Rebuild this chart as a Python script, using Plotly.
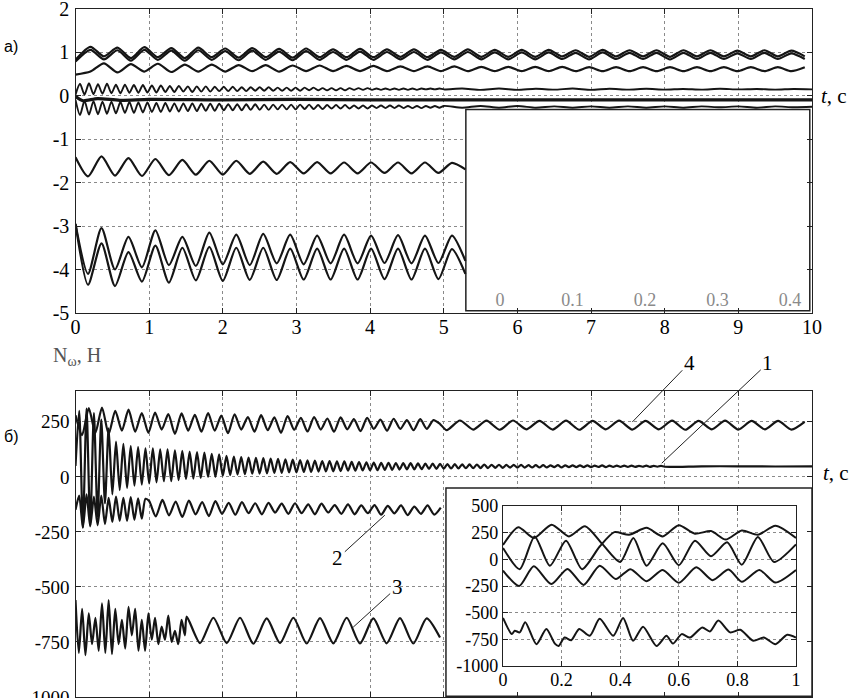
import numpy as np
import plotly.graph_objects as go

W, H = 853, 698

# ---------------- panel a) : values at the swing extrema ----------------
# curves 1..3 of panel a share a swing of ~0.366 s, sampled at its half period
A_T0 = 0.203
A_DT = 0.183
a1_v = [0.82,
        1.12, 0.90, 1.10, 0.86, 1.11, 0.88, 1.09, 0.86, 1.10, 0.88,
        1.08, 0.87, 1.09, 0.88, 1.07, 0.87, 1.08, 0.88, 1.06, 0.88,
        1.07, 0.88, 1.06, 0.89, 1.06, 0.88, 1.05, 0.89, 1.06, 0.89,
        1.05, 0.89, 1.05, 0.89, 1.05, 0.90, 1.04, 0.89, 1.05, 0.90,
        1.04, 0.90, 1.04, 0.89, 1.04, 0.90, 1.04, 0.90, 1.03, 0.90,
        1.04, 0.90, 1.03, 0.90]
a2_v = [0.78,
        1.05, 0.83, 1.04, 0.80, 1.05, 0.82, 1.03, 0.80, 1.04, 0.82,
        1.02, 0.81, 1.03, 0.82, 1.01, 0.81, 1.02, 0.82, 1.00, 0.82,
        1.01, 0.82, 1.00, 0.83, 1.00, 0.82, 0.99, 0.83, 1.00, 0.83,
        0.99, 0.83, 0.99, 0.83, 0.99, 0.84, 0.98, 0.83, 0.99, 0.84,
        0.98, 0.84, 0.98, 0.83, 0.98, 0.84, 0.98, 0.84, 0.97, 0.84,
        0.98, 0.84, 0.97, 0.84]
a3_v = [0.48,
        0.55, 0.74, 0.53, 0.72, 0.55, 0.73, 0.54, 0.71, 0.55, 0.71,
        0.55, 0.70, 0.56, 0.70, 0.55, 0.69, 0.56, 0.69, 0.56, 0.68,
        0.56, 0.68, 0.56, 0.67, 0.56, 0.67, 0.56, 0.67, 0.56, 0.66,
        0.56, 0.66, 0.56, 0.66, 0.56, 0.66, 0.56, 0.65, 0.56, 0.65,
        0.56, 0.65, 0.56, 0.65, 0.56, 0.65, 0.56, 0.65, 0.56, 0.65,
        0.56, 0.65, 0.56, 0.65]

# fast ripple curves (~0.12 s) : dense part up to 5 s, coarse part after
HF_DT = 0.061
LF_T0 = 5.25
LF_DT = 0.25
a4_hf = [0.02,
         0.27, 0.02, 0.28, 0.03, 0.26, 0.04, 0.27, 0.05, 0.25, 0.05,
         0.25, 0.06, 0.24, 0.06, 0.24, 0.07, 0.23, 0.07, 0.23, 0.08,
         0.22, 0.08, 0.22, 0.09, 0.21, 0.08, 0.21, 0.09, 0.21, 0.09,
         0.20, 0.10, 0.20, 0.10, 0.20, 0.10, 0.19, 0.10, 0.19, 0.11,
         0.19, 0.11, 0.19, 0.11, 0.18, 0.11, 0.18, 0.11, 0.18,
         0.11, 0.18, 0.12, 0.18, 0.12, 0.17, 0.12, 0.17, 0.12, 0.17,
         0.12, 0.17, 0.13, 0.17, 0.13, 0.17, 0.13, 0.16, 0.13, 0.16,
         0.13, 0.16, 0.13, 0.16, 0.13, 0.16, 0.13, 0.16, 0.14, 0.16,
         0.14, 0.16, 0.14]
a4_lf = [0.16, 0.13, 0.16, 0.13, 0.155, 0.135, 0.16, 0.13, 0.155, 0.135,
         0.155, 0.135, 0.15, 0.135, 0.155, 0.14, 0.15, 0.135, 0.15, 0.14]
a6_hf = [-0.10,
         -0.45, -0.12, -0.44, -0.13, -0.43, -0.14, -0.42, -0.14, -0.41, -0.15,
         -0.40, -0.15, -0.40, -0.16, -0.39, -0.16, -0.38, -0.17, -0.38, -0.17,
         -0.37, -0.18, -0.37, -0.18, -0.36, -0.18, -0.36, -0.19, -0.35, -0.19,
         -0.35, -0.19, -0.34, -0.20, -0.34, -0.20, -0.34, -0.20, -0.33, -0.20,
         -0.33, -0.21, -0.33, -0.21, -0.32, -0.21, -0.32, -0.21, -0.32,
         -0.21, -0.31, -0.21, -0.31, -0.22, -0.31, -0.22, -0.30, -0.22, -0.30,
         -0.22, -0.30, -0.23, -0.30, -0.23, -0.30, -0.23, -0.29, -0.23, -0.29,
         -0.23, -0.29, -0.23, -0.29, -0.24, -0.29, -0.24, -0.29, -0.24, -0.28,
         -0.24, -0.28, -0.24]
a6_lf = [-0.28, -0.24, -0.28, -0.24, -0.28, -0.25, -0.28, -0.25, -0.28, -0.25,
         -0.28, -0.25, -0.28, -0.25, -0.27, -0.25, -0.28, -0.25, -0.27, -0.26]

a5_t = [0, 0.1, 0.3, 0.6, 1, 2, 3, 4, 5, 6, 7, 8, 9, 10]
a5_v = [-0.02, -0.12, -0.07, -0.11, -0.09, -0.10, -0.09, -0.10, -0.10, -0.10, -0.10, -0.10, -0.10, -0.10]

# lower curves of panel a stop at the inset (t ~ 5.3)
LOW_T0 = 0.17
a7_v = [-1.42,
        -1.86, -1.40, -1.84, -1.44, -1.85, -1.46, -1.83, -1.48, -1.82, -1.50,
        -1.82, -1.50, -1.80, -1.52, -1.80, -1.53, -1.79, -1.53, -1.79, -1.54,
        -1.79, -1.54, -1.78, -1.54, -1.79, -1.54, -1.78, -1.55, -1.70]
a8_v = [-2.95,
        -4.10, -3.05, -4.00, -3.25, -3.95, -3.10, -3.90, -3.25, -3.92, -3.15,
        -3.88, -3.20, -3.90, -3.18, -3.86, -3.20, -3.88, -3.22, -3.86, -3.20,
        -3.86, -3.22, -3.85, -3.21, -3.86, -3.22, -3.85, -3.22, -3.80]
a9_v = [-2.95,
        -4.35, -3.40, -4.38, -3.60, -4.28, -3.45, -4.30, -3.50, -4.25, -3.48,
        -4.26, -3.50, -4.24, -3.50, -4.24, -3.52, -4.23, -3.52, -4.23, -3.52,
        -4.23, -3.52, -4.22, -3.52, -4.23, -3.52, -4.22, -3.53, -4.10]

# ---------------- panel б) ----------------
b1_dt = 0.05
b1_v = [50,
        300, -230, 310, -220, 290, -180, 260, -120, 220, -80,
        160, -60, 150, -50, 140, -40, 135, -35, 130, -30,
        130, -25, 125, -20, 125, -20, 120, -15, 118, -10,
        115, -8, 112, -5, 110, 0, 105, 0, 102, 5,
        95, 8, 92, 10, 90, 12, 88, 14, 86, 15,
        85, 16, 83, 18, 82, 18, 80, 20, 78, 20,
        76, 22, 75, 22, 74, 24, 72, 25, 72, 25,
        70, 26, 70, 28, 68, 28, 67, 29, 66, 30,
        65, 30, 64, 32, 64, 32, 63, 33, 62, 34,
        62, 34, 61, 35, 60, 36, 60, 36, 59, 37,
        58, 38, 58, 38, 57, 39, 57, 39, 56, 40,
        56, 40, 55, 41, 55, 41, 54, 42, 54, 42,
        54, 42, 53, 43, 53, 43, 53, 43, 52, 44,
        53, 43, 52, 44, 52, 44, 52, 44, 52, 44,
        51, 45, 52, 44, 51, 45, 51, 45, 51, 45,
        51, 45, 50, 46, 51, 45, 50, 46, 50, 46]
b1_tail_t = [8.5, 9.0, 9.5, 10.0]
b1_tail_v = [48, 48, 47, 48]

b2_v_early = [-150, -85, -230, -80, -225, -90, -220, -85, -215, -95,
              -205, -90, -200, -95, -200, -92, -195, -98, -190, -100]
b2_v_late = [-110, -180, -105, -175, -112, -182, -108, -170, -115, -178,
             -110, -168, -118, -172, -115, -165, -120, -170, -118, -162,
             -122, -168, -120, -165, -125, -170, -122, -162, -128, -168,
             -125, -170, -130, -165, -128, -172, -132, -166, -130, -174,
             -135, -168, -130, -172, -140]

b3_v_early = [-560, -800, -600, -810, -620, -760, -640, -790, -575, -800,
              -560, -805, -600, -760, -650, -780, -590, -720, -600, -790,
              -650, -790, -620, -740, -640, -760, -680, -740, -630, -750,
              -700, -760, -650, -720]
b3_v_late = [-635, -755, -640, -755, -640, -758, -643, -755, -640, -757,
             -642, -756, -640, -757, -643, -756, -642, -757, -643, -730]

b4_v_early = [280,
              190, 312, 200, 315, 195, 300, 210, 305, 205, 290,
              200, 292, 215, 285, 195, 288, 210, 282, 205, 290,
              210, 278, 198, 284, 215, 272, 205, 280, 212, 270,
              200, 276, 214, 268, 206, 272, 215, 265, 205, 270,
              216, 262, 208, 268, 218, 260, 210, 264, 218, 258,
              212, 262, 218, 258, 240]
b4_v_late = [212, 256, 215, 255, 214, 256, 216, 254, 215, 255,
             214, 254, 216, 255, 215, 254, 216, 255, 214, 254,
             216, 255, 215, 254, 216, 254, 215, 250]

# inset of panel б) (first second)
ib1_t = [0, 0.052, 0.105, 0.166, 0.225, 0.28, 0.34, 0.40, 0.445, 0.49, 0.545, 0.60, 0.655, 0.71, 0.765, 0.815, 0.87, 0.925, 1.0]
ib1_v = [134, 300, 200, 325, 215, 310, 140, -25, 200, -60, 150, -55, 175, 30, 160, -50, 210, -25, 140]
ib4_t = [0, 0.057, 0.108, 0.16, 0.215, 0.27, 0.33, 0.38, 0.43, 0.49, 0.545, 0.60, 0.655, 0.71, 0.76, 0.815, 0.87, 0.93, 1.0]
ib4_v = [107, -92, 215, -60, 175, -92, 120, 255, 230, 295, 215, 320, 240, 265, 185, 270, 230, 315, 200]
ib2_t = [0, 0.055, 0.105, 0.165, 0.22, 0.275, 0.33, 0.385, 0.435, 0.49, 0.545, 0.60, 0.66, 0.715, 0.77, 0.815, 0.875, 0.93, 1.0]
ib2_v = [-105, -250, -65, -232, -90, -240, -60, -185, -92, -205, -100, -220, -75, -195, -95, -210, -100, -218, -100]
ib3_t = [0, 0.03, 0.04, 0.057, 0.076, 0.114, 0.148, 0.177, 0.19, 0.21, 0.233, 0.26, 0.296, 0.33, 0.376, 0.41,
         0.444, 0.478, 0.524, 0.558, 0.58, 0.61, 0.638, 0.68, 0.706, 0.735, 0.775, 0.81, 0.854, 0.89, 0.93, 0.97, 1.0]
ib3_v = [-549, -701, -669, -685, -590, -796, -653, -790, -812, -733, -758, -653, -717, -558, -717, -549,
         -764, -631, -812, -717, -790, -701, -733, -638, -676, -574, -685, -660, -764, -733, -796, -707, -733]

# ticks
t_ticks = list(range(0, 11))
a_yticks = [2, 1, 0, -1, -2, -3, -4, -5]
a_ylabels = ['2', '1', '0', '-1', '-2', '-3', '-4', '-5']
b_yticks = [250, 0, -250, -500, -750, -1000]
b_ylabels = ['250', '0', '-250', '-500', '-750', '-1000']
ia_xticks = [0, 0.1, 0.2, 0.3, 0.4]
ia_xlabels = ['0', '0.1', '0.2', '0.3', '0.4']
ib_xticks = [0, 0.2, 0.4, 0.6, 0.8, 1]
ib_xlabels = ['0', '0.2', '0.4', '0.6', '0.8', '1']
ib_yticks = [500, 250, 0, -250, -500, -750, -1000]
ib_ylabels = ['500', '250', '0', '-250', '-500', '-750', '-1000']

# curve labels of panel б): (number, t, value)
b_marks = [('4', 7.56, 249), ('1', 7.96, 62), ('2', 4.2, -174), ('3', 3.77, -683)]


def px_x(px):
    return px / W


def px_y(py):
    return 1 - py / H


def swing_t(t0, dt, n):
    # first value is the start at t = 0, the rest sit on the extrema
    return np.concatenate([[0.0], t0 + dt * np.arange(n - 1)])


def add_line(fig, t, v, xa, ya, width=2.2):
    fig.add_trace(go.Scatter(x=t, y=v, mode='lines', xaxis=xa, yaxis=ya,
                             line=dict(color='#151515', width=width, shape='spline', smoothing=0.7),
                             hoverinfo='skip', showlegend=False))


fig = go.Figure()

# panel a
for vals in (a1_v, a2_v, a3_v):
    add_line(fig, swing_t(A_T0, A_DT, len(vals)), vals, 'x', 'y')
for hf, lf in ((a4_hf, a4_lf), (a6_hf, a6_lf)):
    t = np.concatenate([HF_DT * np.arange(len(hf)), LF_T0 + LF_DT * np.arange(len(lf))])
    add_line(fig, t, hf + lf, 'x', 'y', 1.9)
add_line(fig, a5_t, a5_v, 'x', 'y', 3.2)
for vals in (a7_v, a8_v, a9_v):
    add_line(fig, swing_t(LOW_T0, A_DT, len(vals)), vals, 'x', 'y')

# panel б
add_line(fig, np.concatenate([b1_dt * np.arange(len(b1_v)), b1_tail_t]), b1_v + b1_tail_v, 'x2', 'y2')
add_line(fig, np.concatenate([0.05 * np.arange(len(b2_v_early)), 1.0 + 0.09 * np.arange(len(b2_v_late))]),
         b2_v_early + b2_v_late, 'x2', 'y2')
add_line(fig, np.concatenate([0.045 * np.arange(len(b3_v_early)), 1.51 + 0.181 * np.arange(len(b3_v_late))]),
         b3_v_early + b3_v_late, 'x2', 'y2')
add_line(fig, np.concatenate([0.09 * np.arange(len(b4_v_early)), 5.04 + 0.18 * np.arange(len(b4_v_late))]),
         b4_v_early + b4_v_late, 'x2', 'y2')

# empty inset of panel a (only its faded tick labels survive)
fig.add_trace(go.Scatter(x=[0], y=[0], xaxis='x3', yaxis='y3', mode='lines',
                         hoverinfo='skip', showlegend=False))

# inset of panel б
for t, v in ((ib1_t, ib1_v), (ib4_t, ib4_v), (ib2_t, ib2_v), (ib3_t, ib3_v)):
    add_line(fig, t, v, 'x4', 'y4', 2.0)

serif = 'Liberation Serif, Times New Roman, serif'
grid = dict(showgrid=True, gridcolor='#8a8a8a', griddash='dot', gridwidth=1, zeroline=False,
            showline=True, linecolor='#222', linewidth=1.4, mirror='ticks',
            ticks='inside', ticklen=5, tickcolor='#222', automargin=False,
            ticklabeloverflow='allow')
main_x = [px_x(75.5), px_x(812)]

fig.update_layout(
    template='none',
    width=W, height=H,
    margin=dict(l=0, r=0, t=0, b=0, autoexpand=False),
    paper_bgcolor='white', plot_bgcolor='white',
    font=dict(family=serif, size=20, color='black'),
    showlegend=False,
    xaxis=dict(domain=main_x, range=[0, 10], anchor='y', tickvals=t_ticks, ticklabelstandoff=-4,
               tickfont=dict(family=serif, size=20, color='black'), **grid),
    yaxis=dict(domain=[px_y(313), px_y(8.5)], range=[-5, 2], anchor='x',
               tickvals=a_yticks, ticktext=a_ylabels, ticklabelstandoff=1,
               tickfont=dict(family=serif, size=20, color='black'), **grid),
    xaxis2=dict(domain=main_x, range=[0, 10], anchor='y2', tickvals=t_ticks,
                showticklabels=False, **grid),
    yaxis2=dict(domain=[px_y(697), px_y(391)], range=[-1000, 390], anchor='x2',
                tickvals=b_yticks, ticktext=b_ylabels, ticklabelstandoff=1,
                tickfont=dict(family=serif, size=19, color='black'), **grid),
    xaxis3=dict(domain=[px_x(500), px_x(790)], range=[0, 0.4], anchor='y3',
                tickvals=ia_xticks, ticktext=ia_xlabels, showgrid=False, zeroline=False,
                showline=False, ticks='', ticklen=0, automargin=False,
                tickfont=dict(family=serif, size=18, color='#8a8a8a')),
    yaxis3=dict(domain=[px_y(287), px_y(120)], range=[0, 1], anchor='x3', visible=False,
                automargin=False),
    xaxis4=dict(domain=[px_x(503), px_x(796)], range=[0, 1], anchor='y4',
                tickvals=ib_xticks, ticktext=ib_xlabels, ticklabelstandoff=-3,
                tickfont=dict(family=serif, size=18, color='black'), **grid),
    yaxis4=dict(domain=[px_y(666), px_y(506)], range=[-1000, 500], anchor='x4',
                tickvals=ib_yticks, ticktext=ib_ylabels, ticklabelstandoff=0,
                tickfont=dict(family=serif, size=18, color='black'), **grid),
)

# white inset frames: above the grid of the main plot, below its curves
fig.add_shape(type='rect', xref='x', yref='y', x0=5.30, x1=9.97, y0=-4.95, y1=-0.32,
              layer='between', fillcolor='white', line=dict(color='#222', width=1.5))
fig.add_shape(type='rect', xref='x2', yref='y2', x0=5.03, x1=10.0, y0=-997, y1=-51,
              layer='between', fillcolor='white', line=dict(color='#222', width=1.5))

label_font = dict(family=serif, size=21, color='black')
side_font = dict(family='Liberation Sans', size=16, color='black')
fig.add_annotation(x=px_x(11), y=px_y(47), xref='paper', yref='paper', text='a)', showarrow=False,
                   xanchor='center', yanchor='middle', font=side_font)
fig.add_annotation(x=px_x(11), y=px_y(436), xref='paper', yref='paper', text='б)', showarrow=False,
                   xanchor='center', yanchor='middle', font=side_font)
fig.add_annotation(x=px_x(834), y=px_y(96), xref='paper', yref='paper', text='<i>t</i>, c',
                   showarrow=False, xanchor='center', yanchor='middle', font=label_font)
fig.add_annotation(x=px_x(836), y=px_y(473), xref='paper', yref='paper', text='<i>t</i>, c',
                   showarrow=False, xanchor='center', yanchor='middle', font=label_font)
fig.add_annotation(x=px_x(77), y=px_y(356), xref='paper', yref='paper', text='N<sub>ω</sub>, Н',
                   showarrow=False, xanchor='center', yanchor='middle',
                   font=dict(family=serif, size=20, color='#555'))

offsets = {'4': (57, -59), '1': (106, -100), '2': (-47, 43), '3': (44, -40)}
for name, t, v in b_marks:
    ax, ay = offsets[name]
    fig.add_annotation(x=t, y=v, xref='x2', yref='y2', text=name, showarrow=True,
                       arrowhead=0, arrowwidth=1, arrowcolor='#222', ax=ax, ay=ay,
                       font=label_font)

# the page's default 8px body margin would shift the whole figure
fig.write_html('out.html', config={'displayModeBar': False},
               post_script="document.body.style.margin='0';")
